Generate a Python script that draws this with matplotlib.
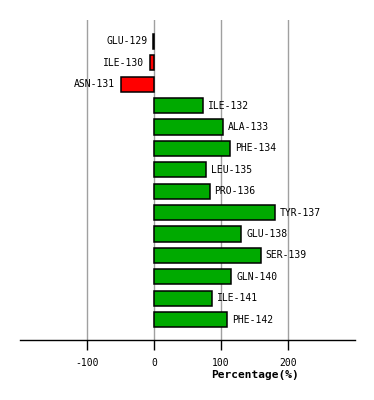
import matplotlib
matplotlib.use("Agg")
import matplotlib.pyplot as plt
from matplotlib.transforms import offset_copy

residues = ["GLU-129", "ILE-130", "ASN-131", "ILE-132", "ALA-133", "PHE-134",
            "LEU-135", "PRO-136", "TYR-137", "GLU-138", "SER-139", "GLN-140",
            "ILE-141", "PHE-142"]
values = [-1, -6, -50, 73, 103, 114, 77, 83, 180, 130, 159, 115, 86, 109]
xticks = [-100, 0, 100, 200]

W, H = 374, 400
fig = plt.figure(figsize=(W / 100, H / 100), dpi=100)
ax = fig.add_axes([20 / W, 1 - 340 / H, (355 - 20) / W, (340 - 20) / H])

mono = "DejaVu Sans Mono"
for x in xticks:
    ax.axvline(x, color="#a0a0a0", lw=1.0, zorder=0)

ys = list(range(len(residues)))
colors = ["#00aa00" if v > 0 else "#ff0000" for v in values]
ax.barh(ys, values, height=0.71, color=colors, edgecolor="black", linewidth=1.1, zorder=2)

for y, v, name in zip(ys, values, residues):
    if v > 0:
        tr = offset_copy(ax.transData, fig=fig, x=5, y=0, units="dots")
        ax.text(v, y, name, transform=tr, ha="left", va="center",
                fontsize=7, family=mono, color="black")
    else:
        tr = offset_copy(ax.transData, fig=fig, x=-6, y=0, units="dots")
        ax.text(v, y, name, transform=tr, ha="right", va="center",
                fontsize=7, family=mono, color="black")

ax.set_xlim(-200, 300)
ax.set_ylim(13.95, -1.0)
for s in ["top", "left", "right"]:
    ax.spines[s].set_visible(False)
ax.spines["bottom"].set_linewidth(1.0)
ax.set_yticks([])
ax.set_xticks(xticks)
ax.set_xticklabels([str(t) for t in xticks], family=mono, fontsize=7)
ax.tick_params(axis="x", length=7, width=1, pad=6)

fig.text(255 / W, 1 - 375 / H, "Percentage(%)", ha="center", va="center",
         fontsize=8, family=mono, fontweight="bold")

fig.savefig("out.png", dpi=100)
